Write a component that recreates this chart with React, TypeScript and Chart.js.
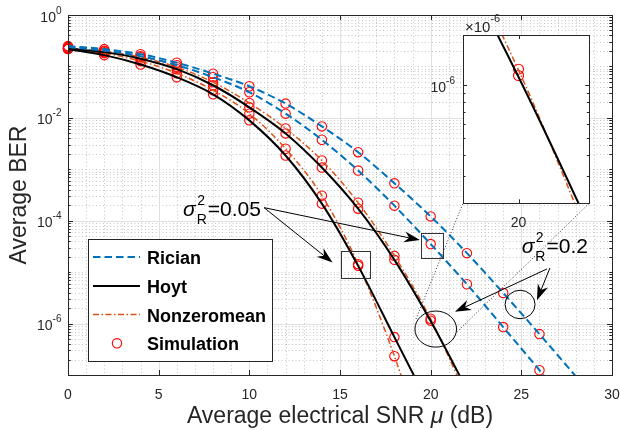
import React, { useEffect, useRef } from "react";
import { Chart, registerables } from "chart.js";
Chart.register(...registerables);

// ---------- data ----------
const SNR = [0, 2, 4, 6, 8, 10, 12, 14, 16, 18, 20, 22, 24, 26, 28];
// theory curves (sigma_R^2 = 0.05 and 0.2)
const ricianS02 = [0.2484, 0.2171, 0.1734, 0.1183, 0.0722, 0.04117, 0.01893, 0.006826, 0.002151, 5.342e-4, 1.213e-4, 2.343e-5, 3.937e-6, 6.238e-7, 9.45e-8];
const ricianS005 = [0.2374, 0.2029, 0.1585, 0.1058, 0.06168, 0.03145, 0.01208, 0.003755, 9.454e-4, 1.962e-4, 3.512e-5, 5.818e-6, 8.544e-7, 1.238e-7, 1.639e-8];
const hoytS005 = [0.2171, 0.1658, 0.1091, 0.06168, 0.02874, 0.008938, 0.001855, 2.146e-4, 1.324e-5, 5.452e-7, 2.245e-8, null, null, null, null];
const nzmS005 = [0.222, 0.1814, 0.1266, 0.07383, 0.0344, 0.01208, 0.002506, 3.075e-4, 1.429e-5, 2.322e-7, 1.6e-9, null, null, null, null];
const hoytS02 = [0.222, 0.1897, 0.1416, 0.08839, 0.04305, 0.01603, 0.004984, 0.001082, 1.714e-4, 1.734e-5, 1.119e-6, 5.21e-8, null, null, null];
const nzmS02 = [0.227, 0.1984, 0.1515, 0.09669, 0.04928, 0.01945, 0.00624, 0.001482, 2.245e-4, 2.075e-5, 1.224e-6, 3.7e-8, null, null, null];

// simulation points
const SIM_SNR = [0, 2, 4, 6, 8, 10, 12, 14, 16, 18, 20, 22, 24, 26];
const simRicianS02 = [0.2484, 0.2171, 0.1734, 0.1183, 0.0722, 0.04117, 0.01893, 0.006826, 0.002151, 5.342e-4, 1.213e-4, 2.343e-5, 3.937e-6, 6.238e-7];
const simRicianS005 = [0.2374, 0.2029, 0.1585, 0.1058, 0.06168, 0.03145, 0.01208, 0.003755, 9.454e-4, 1.962e-4, 3.512e-5, 5.818e-6, 8.544e-7, 1.238e-7];
const simHoytS005 = [0.2171, 0.1658, 0.1091, 0.06168, 0.02874, 0.008938, 0.001855, 2.146e-4, 1.324e-5, 5.452e-7, null, null, null, null];
const simNzmS005 = [0.222, 0.1814, 0.1266, 0.07383, 0.0344, 0.01208, 0.002506, 3.075e-4, 1.429e-5, 2.322e-7, null, null, null, null];
const simHoytS02 = [0.222, 0.1897, 0.1416, 0.08839, 0.04305, 0.01603, 0.004984, 0.001082, 1.714e-4, 1.734e-5, 1.14e-6, null, null, null];
const simNzmS02 = [0.227, 0.1984, 0.1515, 0.09669, 0.04928, 0.01945, 0.00624, 0.001482, 2.245e-4, 2.075e-5, 1.24e-6, null, null, null];

// axes / ticks
const X_TICKS = [0, 5, 10, 15, 20, 25, 30];
const Y_TICK_EXP = [0, -2, -4, -6];
const INSET_X_TICKS = [20];
const INSET_Y_TICK_EXP = [-6];
const LEGEND_LABELS = ["Rician", "Hoyt", "Nonzeromean", "Simulation"];
const ANNOT_005 = "0.05";
const ANNOT_02 = "0.2";

// ---------- styles / layout ----------
const FONT = '"Liberation Sans", Arial, Helvetica, sans-serif';
const BLUE = "#0072BD";
const ORANGE = "#D95319";
const RED = "#FF0000";
const AXIS = "#262626";
const INSET = { left: 420, top: 5, w: 190, h: 230, padL: 43, padT: 30, padR: 20.7, padB: 31.7 };
const INSET_BOX = {
  l: INSET.left + INSET.padL,
  t: INSET.top + INSET.padT,
  r: INSET.left + INSET.w - INSET.padR,
  b: INSET.top + INSET.h - INSET.padB,
};

// annotation geometry in data units (x in dB, y as log10 BER)
const BOXES = [
  [15.04, 16.65, -4.585, -5.118],
  [19.47, 20.7, -4.24, -4.728],
];
const ELLIPSES = [
  [20.28, -6.107, 1.147, 0.351],
  [24.93, -5.629, 0.827, 0.277],
];
const ARROWS = [
  [10.81, -3.746, 19.41, -4.377],
  [10.81, -3.746, 14.59, -4.814],
  [26.42, -4.937, 21.34, -5.77],
  [26.58, -4.917, 25.86, -5.547],
];
const CONNECT = [
  [19.19, -5.912],
  [21.44, -6.166],
];
const TEXT_POS = [
  [6.34, -3.902],
  [25.02, -4.624],
];

function pts(xs: number[], ys: (number | null)[]) {
  const out: { x: number; y: number }[] = [];
  xs.forEach((x, i) => {
    const v = ys[i];
    if (v != null) out.push({ x, y: v });
  });
  return out;
}

function lineDs(ys: (number | null)[], color: string, width: number, dash: number[]) {
  return {
    data: pts(SNR, ys),
    borderColor: color,
    borderWidth: width,
    borderDash: dash,
    pointRadius: 0,
    fill: false,
    cubicInterpolationMode: "monotone" as const,
    clip: 0,
  };
}
function simDs(ys: (number | null)[], r: number) {
  return {
    data: pts(SIM_SNR, ys),
    showLine: false,
    pointRadius: r,
    pointStyle: "circle" as const,
    pointBorderColor: RED,
    pointBackgroundColor: "rgba(0,0,0,0)",
    pointBorderWidth: 1.1,
    clip: false as const,
  };
}

const RIC_DASH = [7.5, 4];
const NZM_DASH = [6, 2.5, 1.5, 2.5];

function drawPow(ctx: CanvasRenderingContext2D, exp: number, right: number, y: number) {
  ctx.font = `14px ${FONT}`;
  const w1 = ctx.measureText("10").width;
  ctx.font = `10px ${FONT}`;
  const es = String(exp);
  const w2 = ctx.measureText(es).width;
  ctx.textAlign = "left";
  ctx.textBaseline = "alphabetic";
  ctx.fillStyle = AXIS;
  ctx.font = `14px ${FONT}`;
  ctx.fillText("10", right - w2 - w1, y + 6.5);
  ctx.font = `10px ${FONT}`;
  ctx.fillText(es, right - w2, y - 1.5);
}

function arrow(ctx: CanvasRenderingContext2D, x0: number, y0: number, x1: number, y1: number) {
  const dx = x1 - x0, dy = y1 - y0;
  const len = Math.hypot(dx, dy);
  const ux = dx / len, uy = dy / len;
  const nx = -uy, ny = ux;
  const L = 16, W = 5.5, N = 5;
  const bx = x1 - ux * L, by = y1 - uy * L;
  const kx = x1 - ux * (L - N), ky = y1 - uy * (L - N);
  ctx.beginPath();
  ctx.moveTo(x0, y0);
  ctx.lineTo(kx, ky);
  ctx.strokeStyle = "#000";
  ctx.lineWidth = 1;
  ctx.setLineDash([]);
  ctx.stroke();
  ctx.beginPath();
  ctx.moveTo(x1, y1);
  ctx.lineTo(bx + nx * W, by + ny * W);
  ctx.lineTo(kx, ky);
  ctx.lineTo(bx - nx * W, by - ny * W);
  ctx.closePath();
  ctx.fillStyle = "#000";
  ctx.fill();
}

function sigmaText(ctx: CanvasRenderingContext2D, x: number, y: number, val: string) {
  ctx.fillStyle = "#000";
  ctx.textAlign = "left";
  ctx.textBaseline = "alphabetic";
  ctx.font = `italic 21px ${FONT}`;
  ctx.fillText("σ", x, y);
  const ws = ctx.measureText("σ").width;
  ctx.font = `14px ${FONT}`;
  ctx.fillText("2", x + ws + 1.5, y - 11);
  ctx.fillText("R", x + ws + 1, y + 8);
  const wr = ctx.measureText("R").width;
  ctx.font = `21px ${FONT}`;
  ctx.fillText("=" + val, x + ws + wr + 2, y);
}

const gridPlugin = {
  id: "matlabGrid",
  beforeDatasetsDraw(chart: any) {
    const { ctx, chartArea: a, scales } = chart;
    const xs = scales.x, ys = scales.y;
    ctx.save();
    // minor grid (dotted)
    ctx.strokeStyle = "#c6c6c6";
    ctx.lineWidth = 1;
    ctx.setLineDash([1, 2.5]);
    for (let k = -7; k <= -1; k++) {
      for (let m = 1; m <= 9; m++) {
        if (m === 1 && (k % 2 === 0 || k === -7)) continue;
        const py = Math.round(ys.getPixelForValue(m * Math.pow(10, k))) + 0.5;
        ctx.beginPath();
        ctx.moveTo(a.left, py);
        ctx.lineTo(a.right, py);
        ctx.stroke();
      }
    }
    for (let v = 1; v < 30; v++) {
      if (v % 5 === 0) continue;
      const px = Math.round(xs.getPixelForValue(v)) + 0.5;
      ctx.beginPath();
      ctx.moveTo(px, a.top);
      ctx.lineTo(px, a.bottom);
      ctx.stroke();
    }
    // major grid
    ctx.setLineDash([]);
    ctx.strokeStyle = "#e0e0e0";
    Y_TICK_EXP.forEach((e) => {
      const py = Math.round(ys.getPixelForValue(Math.pow(10, e))) + 0.5;
      ctx.beginPath();
      ctx.moveTo(a.left, py);
      ctx.lineTo(a.right, py);
      ctx.stroke();
    });
    X_TICKS.forEach((v) => {
      const px = Math.round(xs.getPixelForValue(v)) + 0.5;
      ctx.beginPath();
      ctx.moveTo(px, a.top);
      ctx.lineTo(px, a.bottom);
      ctx.stroke();
    });
    ctx.restore();
  },
};

const decorPlugin = {
  id: "matlabDecor",
  afterDatasetsDraw(chart: any) {
    const { ctx, chartArea: a, scales } = chart;
    const xs = scales.x, ys = scales.y;
    const P = (x: number, lg: number) => [xs.getPixelForValue(x), ys.getPixelForValue(Math.pow(10, lg))];
    ctx.save();
    // axes box
    ctx.setLineDash([]);
    ctx.strokeStyle = AXIS;
    ctx.lineWidth = 1;
    ctx.strokeRect(Math.round(a.left) + 0.5, Math.round(a.top) + 0.5, Math.round(a.right - a.left), Math.round(a.bottom - a.top));
    // ticks
    ctx.beginPath();
    X_TICKS.forEach((v) => {
      const px = Math.round(xs.getPixelForValue(v)) + 0.5;
      ctx.moveTo(px, a.bottom);
      ctx.lineTo(px, a.bottom - 5);
      ctx.moveTo(px, a.top);
      ctx.lineTo(px, a.top + 5);
    });
    for (let k = -7; k <= 0; k++) {
      for (let m = 1; m <= 9; m++) {
        if (k === 0 && m > 1) break;
        const major = m === 1 && k % 2 === 0;
        const len = major ? 5 : 2.7;
        const py = Math.round(ys.getPixelForValue(m * Math.pow(10, k))) + 0.5;
        ctx.moveTo(a.left, py);
        ctx.lineTo(a.left + len, py);
        ctx.moveTo(a.right, py);
        ctx.lineTo(a.right - len, py);
      }
    }
    ctx.stroke();
    // tick labels
    ctx.fillStyle = AXIS;
    ctx.font = `14px ${FONT}`;
    ctx.textAlign = "center";
    ctx.textBaseline = "alphabetic";
    X_TICKS.forEach((v) => ctx.fillText(String(v), xs.getPixelForValue(v), a.bottom + 23.5));
    Y_TICK_EXP.forEach((e) => drawPow(ctx, e, a.left - 6.5, ys.getPixelForValue(Math.pow(10, e))));
    // axis titles
    ctx.fillStyle = AXIS;
    ctx.font = `23px ${FONT}`;
    const t1 = "Average electrical SNR ";
    const t3 = " (dB)";
    const w1 = ctx.measureText(t1).width;
    const w3 = ctx.measureText(t3).width;
    ctx.font = `italic 23px ${FONT}`;
    const w2 = ctx.measureText("μ").width;
    const cx = (a.left + a.right) / 2;
    const sx = cx - (w1 + w2 + w3) / 2;
    const by = a.bottom + 48;
    ctx.textAlign = "left";
    ctx.font = `23px ${FONT}`;
    ctx.fillText(t1, sx, by);
    ctx.font = `italic 23px ${FONT}`;
    ctx.fillText("μ", sx + w1, by);
    ctx.font = `23px ${FONT}`;
    ctx.fillText(t3, sx + w1 + w2, by);
    ctx.save();
    ctx.translate(26, (a.top + a.bottom) / 2);
    ctx.rotate(-Math.PI / 2);
    ctx.textAlign = "center";
    ctx.fillText("Average BER", 0, 0);
    ctx.restore();

    // annotation boxes
    ctx.strokeStyle = "#333";
    ctx.lineWidth = 1;
    BOXES.forEach(([x1, x2, l1, l2]) => {
      const [p1x, p1y] = P(x1, l1);
      const [p2x, p2y] = P(x2, l2);
      ctx.strokeRect(Math.round(p1x) + 0.5, Math.round(p1y) + 0.5, Math.round(p2x - p1x), Math.round(p2y - p1y));
    });
    // ellipses
    ctx.strokeStyle = "#000";
    ELLIPSES.forEach(([x, lg, rx, ry]) => {
      const [cxp, cyp] = P(x, lg);
      const rxp = xs.getPixelForValue(x + rx) - cxp;
      const ryp = ys.getPixelForValue(Math.pow(10, lg - ry)) - cyp;
      ctx.beginPath();
      ctx.ellipse(cxp, cyp, Math.abs(rxp), Math.abs(ryp), 0, 0, Math.PI * 2);
      ctx.stroke();
    });
    // dotted connectors to inset
    ctx.setLineDash([1, 2]);
    ctx.strokeStyle = "#333";
    const [c1x, c1y] = P(CONNECT[0][0], CONNECT[0][1]);
    const [c2x, c2y] = P(CONNECT[1][0], CONNECT[1][1]);
    ctx.beginPath();
    ctx.moveTo(c1x, c1y);
    ctx.lineTo(INSET_BOX.l, INSET_BOX.b);
    ctx.moveTo(c2x, c2y);
    ctx.lineTo(INSET_BOX.r, INSET_BOX.b);
    ctx.stroke();
    ctx.setLineDash([]);
    // arrows
    ARROWS.forEach(([x0, l0, x1, l1]) => {
      const [ax, ay] = P(x0, l0);
      const [bx, byy] = P(x1, l1);
      arrow(ctx, ax, ay, bx, byy);
    });
    // sigma labels
    const [s1x, s1y] = P(TEXT_POS[0][0], TEXT_POS[0][1]);
    sigmaText(ctx, s1x, s1y, ANNOT_005);
    const [s2x, s2y] = P(TEXT_POS[1][0], TEXT_POS[1][1]);
    sigmaText(ctx, s2x, s2y, ANNOT_02);

    // legend
    const L = { x1: 88, y1: 239, x2: 272, y2: 361 };
    ctx.fillStyle = "#fff";
    ctx.fillRect(L.x1, L.y1, L.x2 - L.x1, L.y2 - L.y1);
    ctx.strokeStyle = AXIS;
    ctx.lineWidth = 1;
    ctx.strokeRect(L.x1 + 0.5, L.y1 + 0.5, L.x2 - L.x1, L.y2 - L.y1);
    const rows = [257, 286, 314.5, 343.3];
    const styles = [
      { c: BLUE, w: 2, d: RIC_DASH },
      { c: "#000", w: 2, d: [] as number[] },
      { c: ORANGE, w: 1.5, d: NZM_DASH },
    ];
    styles.forEach((s, i) => {
      ctx.strokeStyle = s.c;
      ctx.lineWidth = s.w;
      ctx.setLineDash(s.d);
      ctx.beginPath();
      ctx.moveTo(93, rows[i]);
      ctx.lineTo(140, rows[i]);
      ctx.stroke();
    });
    ctx.setLineDash([]);
    ctx.strokeStyle = RED;
    ctx.lineWidth = 1.1;
    ctx.beginPath();
    ctx.arc(117, rows[3], 4.7, 0, Math.PI * 2);
    ctx.stroke();
    ctx.fillStyle = "#000";
    ctx.font = `bold 18px ${FONT}`;
    ctx.textAlign = "left";
    LEGEND_LABELS.forEach((t, i) => ctx.fillText(t, 147, rows[i] + 7));
    ctx.restore();
  },
};

const insetPlugin = {
  id: "insetDecor",
  beforeDatasetsDraw(chart: any) {
    const { ctx, chartArea: a } = chart;
    ctx.save();
    ctx.fillStyle = "#fff";
    ctx.fillRect(a.left, a.top, a.right - a.left, a.bottom - a.top);
    ctx.restore();
  },
  afterDatasetsDraw(chart: any) {
    const { ctx, chartArea: a, scales } = chart;
    const xs = scales.x, ys = scales.y;
    ctx.save();
    ctx.strokeStyle = AXIS;
    ctx.lineWidth = 1;
    ctx.setLineDash([]);
    ctx.strokeRect(Math.round(a.left) + 0.5, Math.round(a.top) + 0.5, Math.round(a.right - a.left), Math.round(a.bottom - a.top));
    ctx.beginPath();
    INSET_X_TICKS.forEach((v) => {
      const px = Math.round(xs.getPixelForValue(v)) + 0.5;
      ctx.moveTo(px, a.bottom);
      ctx.lineTo(px, a.bottom - 4);
      ctx.moveTo(px, a.top);
      ctx.lineTo(px, a.top + 4);
    });
    for (let k = -7; k <= -6; k++) {
      for (let m = 1; m <= 9; m++) {
        const v = m * Math.pow(10, k);
        if (v < ys.min || v > ys.max) continue;
        const len = m === 1 ? 4 : 2.5;
        const py = Math.round(ys.getPixelForValue(v)) + 0.5;
        ctx.moveTo(a.left, py);
        ctx.lineTo(a.left + len, py);
        ctx.moveTo(a.right, py);
        ctx.lineTo(a.right - len, py);
      }
    }
    ctx.stroke();
    ctx.fillStyle = AXIS;
    ctx.font = `14px ${FONT}`;
    ctx.textAlign = "center";
    INSET_X_TICKS.forEach((v) => ctx.fillText(String(v), xs.getPixelForValue(v), a.bottom + 23.5));
    INSET_Y_TICK_EXP.forEach((e) => drawPow(ctx, e, a.left - 8, ys.getPixelForValue(Math.pow(10, e))));
    // exponent multiplier
    ctx.font = `15px ${FONT}`;
    ctx.textAlign = "left";
    const wx = ctx.measureText("×10").width;
    ctx.fillText("×10", a.left + 2, a.top - 3.5);
    ctx.font = `11px ${FONT}`;
    ctx.fillText(String(INSET_Y_TICK_EXP[0]), a.left + 2 + wx, a.top - 13);
    ctx.restore();
  },
};

export default function App() {
  const mainRef = useRef<HTMLCanvasElement>(null);
  const insetRef = useRef<HTMLCanvasElement>(null);

  useEffect(() => {
    const main = new Chart(mainRef.current!, {
      type: "line",
      data: {
        datasets: [
          lineDs(ricianS02, BLUE, 2, RIC_DASH),
          lineDs(ricianS005, BLUE, 2, RIC_DASH),
          lineDs(hoytS005, "#000", 2, []),
          lineDs(hoytS02, "#000", 2, []),
          lineDs(nzmS005, ORANGE, 1.5, NZM_DASH),
          lineDs(nzmS02, ORANGE, 1.5, NZM_DASH),
          simDs(simRicianS02, 4.7),
          simDs(simRicianS005, 4.7),
          simDs(simHoytS005, 4.7),
          simDs(simHoytS02, 4.7),
          simDs(simNzmS005, 4.7),
          simDs(simNzmS02, 4.7),
        ] as any,
      },
      options: {
        responsive: false,
        animation: false,
        layout: { padding: { left: 68, top: 15, right: 8, bottom: 55 } },
        scales: {
          x: { type: "linear", min: 0, max: 30, display: false },
          y: { type: "logarithmic", min: 1e-7, max: 1, display: false },
        },
        elements: { line: { capBezierPoints: false } },
        plugins: { legend: { display: false }, tooltip: { enabled: false } },
        events: [],
      },
      plugins: [gridPlugin, decorPlugin],
    });

    const inset = new Chart(insetRef.current!, {
      type: "line",
      data: {
        datasets: [
          lineDs(hoytS02, "#000", 2, []),
          lineDs(nzmS02, ORANGE, 1.5, NZM_DASH),
          simDs(simHoytS02, 5),
          simDs(simNzmS02, 5),
        ] as any,
      },
      options: {
        responsive: false,
        animation: false,
        layout: { padding: { left: INSET.padL, top: INSET.padT, right: INSET.padR, bottom: INSET.padB } },
        scales: {
          x: { type: "linear", min: 18.98, max: 21.3, display: false },
          y: { type: "logarithmic", min: 2.1e-7, max: 1.95e-6, display: false },
        },
        elements: { line: { capBezierPoints: false } },
        plugins: { legend: { display: false }, tooltip: { enabled: false } },
        events: [],
      },
      plugins: [insetPlugin],
    });

    return () => {
      main.destroy();
      inset.destroy();
    };
  }, []);

  return (
    <div style={{ position: "fixed", left: 0, top: 0, width: 620, height: 430, background: "#fff" }}>
      <canvas ref={mainRef} width={620} height={430} style={{ position: "absolute", left: 0, top: 0 }} />
      <canvas
        ref={insetRef}
        width={INSET.w}
        height={INSET.h}
        style={{ position: "absolute", left: INSET.left, top: INSET.top }}
      />
    </div>
  );
}
